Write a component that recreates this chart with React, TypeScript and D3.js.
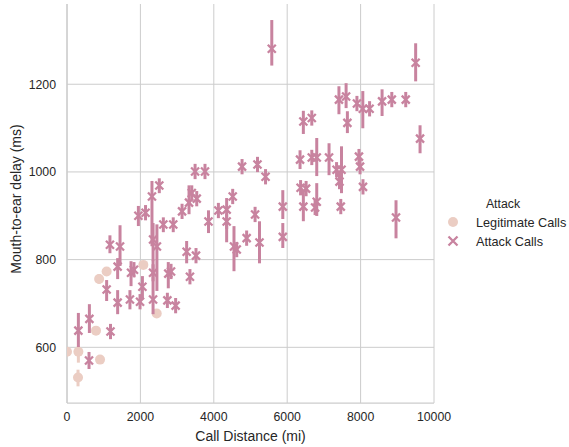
import React from 'react';
import * as d3 from 'd3';

// Legitimate calls: distance (mi), mean delay (ms), CI low / high
const legitDist = [0, 310, 300, 900, 790, 875, 1080, 2080, 2445];
const legitDelay = [590, 590, 531, 572, 638, 756, 773, 788, 677];
const legitLow = [580, 565, 511, 564, 628, 745, 765, 780, 669];
const legitHigh = [600, 602, 549, 580, 648, 767, 781, 796, 685];

// Attack calls
const attackDist = [
  310, 610, 600, 1185, 1080, 1380, 1170, 1445, 1380, 1745,
  1825, 1715, 1990, 2055, 1945, 2140, 2315, 2515, 2345, 2450,
  2345, 2345, 2625, 2895, 2760, 2835, 2735, 2960, 3135, 3325,
  3400, 3535, 3490, 3760, 3260, 3515, 3350, 3855, 4125, 4350,
  4515, 4350, 4550, 4625, 4895, 4770, 5190, 5125, 5410, 5580,
  5245, 5880, 5880, 6350, 6670, 6805, 7140, 7345, 7480, 7425,
  7955, 7985, 8065, 6365, 6515, 6440, 6805, 6760, 7460, 8965,
  6440, 6670, 7410, 7605, 7640, 7900, 8060, 8245, 8585, 8850,
  9230, 9500, 9620,
];
const attackDelay = [
  638, 665, 570, 636, 732, 702, 834, 830, 784, 770,
  777, 709, 704, 738, 900, 907, 944, 969, 846, 830,
  770, 709, 880, 880, 768, 773, 707, 695, 910, 930,
  952, 939, 1001, 1001, 818, 809, 761, 887, 912, 914,
  944, 887, 830, 823, 849, 1012, 1017, 903, 989, 1281,
  839, 921, 852, 1028, 1033, 1033, 1033, 1005, 1005, 978,
  1035, 1012, 966, 964, 962, 921, 932, 919, 921, 896,
  1115, 1123, 1165, 1172, 1112, 1156, 1144, 1144, 1161, 1165,
  1165, 1249, 1076,
];
const attackLow = [
  604, 636, 554, 622, 709, 679, 818, 789, 759, 743,
  763, 690, 690, 713, 880, 893, 834, 955, 800, 732,
  754, 679, 866, 866, 738, 759, 693, 681, 896, 907,
  938, 925, 987, 987, 795, 795, 747, 864, 898, 843,
  930, 873, 777, 809, 835, 998, 1003, 889, 975, 1246,
  795, 896, 830, 1010, 1019, 994, 996, 991, 955, 964,
  1021, 998, 952, 950, 948, 891, 903, 905, 907, 852,
  1090, 1109, 1135, 1149, 1092, 1142, 1103, 1130, 1131, 1151,
  1151, 1210, 1046,
];
const attackHigh = [
  675, 695, 586, 650, 750, 727, 852, 875, 800, 793,
  791, 727, 718, 759, 919, 921, 976, 982, 880, 877,
  786, 795, 893, 893, 791, 787, 721, 709, 924, 966,
  966, 953, 1015, 1015, 839, 823, 775, 909, 926, 937,
  958, 901, 873, 837, 863, 1026, 1031, 917, 1003, 1343,
  884, 955, 880, 1046, 1047, 1074, 1062, 1019, 1055, 992,
  1049, 1026, 980, 978, 976, 955, 971, 933, 935, 932,
  1136, 1137, 1192, 1199, 1135, 1170, 1181, 1158, 1185, 1179,
  1179, 1290, 1103,
];

const xTicks = [0, 2000, 4000, 6000, 8000, 10000];
const yTicks = [600, 800, 1000, 1200];

const legitColor = '#ebcdc3';
const attackColor = '#c8839f';
const gridColor = '#cccccc';
const textColor = '#262626';
const font = '"Liberation Sans", Arial, sans-serif';

export default function App() {
  const width = 569;
  const height = 447;
  const plot = { left: 67, right: 434, top: 4, bottom: 403 };

  const x = d3.scaleLinear().domain([0, 10000]).range([plot.left, plot.right]);
  const y = d3.scaleLinear().domain([473, 1383]).range([plot.bottom, plot.top]);

  const legit = legitDist.map((d, i) => ({ d, v: legitDelay[i], lo: legitLow[i], hi: legitHigh[i] }));
  const attack = attackDist.map((d, i) => ({ d, v: attackDelay[i], lo: attackLow[i], hi: attackHigh[i] }));

  const xs = 4; // half-size of x marker

  return (
    <svg width={width} height={height} style={{ position: 'absolute', left: 0, top: 0, background: '#fff' }}>
      <defs>
        <clipPath id="plotClip">
          <rect x={plot.left} y={plot.top} width={plot.right - plot.left} height={plot.bottom - plot.top} />
        </clipPath>
      </defs>

      {/* grid */}
      {xTicks.map(t => (
        <line key={'gx' + t} x1={x(t)} x2={x(t)} y1={plot.top} y2={plot.bottom} stroke={gridColor} strokeWidth={1} />
      ))}
      {yTicks.map(t => (
        <line key={'gy' + t} x1={plot.left} x2={plot.right} y1={y(t)} y2={y(t)} stroke={gridColor} strokeWidth={1} />
      ))}

      {/* spines */}
      <line x1={plot.left} x2={plot.left} y1={plot.top} y2={plot.bottom} stroke={gridColor} strokeWidth={1.25} />
      <line x1={plot.left} x2={plot.right} y1={plot.bottom} y2={plot.bottom} stroke={gridColor} strokeWidth={1.25} />

      <g clipPath="url(#plotClip)">
        {/* legitimate calls */}
        {legit.map((p, i) => (
          <g key={'l' + i}>
            <line x1={x(p.d)} x2={x(p.d)} y1={y(p.lo)} y2={y(p.hi)} stroke={legitColor} strokeWidth={3} />
            <circle cx={x(p.d)} cy={y(p.v)} r={5} fill={legitColor} />
          </g>
        ))}
        {/* attack calls */}
        {attack.map((p, i) => (
          <g key={'a' + i}>
            <line x1={x(p.d)} x2={x(p.d)} y1={y(p.lo)} y2={y(p.hi)} stroke={attackColor} strokeWidth={3} strokeLinecap="square" />
            <path
              d={`M${x(p.d) - xs},${y(p.v) - xs}L${x(p.d) + xs},${y(p.v) + xs}M${x(p.d) - xs},${y(p.v) + xs}L${x(p.d) + xs},${y(p.v) - xs}`}
              stroke={attackColor}
              strokeWidth={2.3}
              fill="none"
            />
          </g>
        ))}
      </g>

      {/* x tick labels */}
      {xTicks.map(t => (
        <text key={'tx' + t} x={x(t)} y={421} textAnchor="middle" fontFamily={font} fontSize={12.3} fill={textColor}>
          {t}
        </text>
      ))}
      {/* y tick labels */}
      {yTicks.map(t => (
        <text key={'ty' + t} x={56} y={y(t) + 4.4} textAnchor="end" fontFamily={font} fontSize={12.3} fill={textColor}>
          {t}
        </text>
      ))}

      {/* axis labels */}
      <text x={(plot.left + plot.right) / 2} y={441} textAnchor="middle" fontFamily={font} fontSize={14} fill={textColor}>
        Call Distance (mi)
      </text>
      <text
        transform={`translate(21,199) rotate(-90)`}
        textAnchor="middle"
        fontFamily={font}
        fontSize={14}
        fill={textColor}
      >
        Mouth-to-ear delay (ms)
      </text>

      {/* legend */}
      <text x={503} y={208} textAnchor="middle" fontFamily={font} fontSize={12.3} fill={textColor}>Attack</text>
      <circle cx={453} cy={222} r={5} fill={legitColor} />
      <text x={476} y={226.5} fontFamily={font} fontSize={12.7} fill={textColor}>Legitimate Calls</text>
      <path d="M448.5,236.5L457.5,245.5M448.5,245.5L457.5,236.5" stroke={attackColor} strokeWidth={2.3} fill="none" />
      <text x={476} y={245.5} fontFamily={font} fontSize={12.7} fill={textColor}>Attack Calls</text>
    </svg>
  );
}
